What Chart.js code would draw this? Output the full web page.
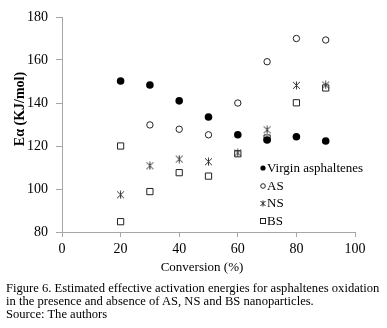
<!DOCTYPE html>
<html>
<head>
<meta charset="utf-8">
<script src="https://cdn.jsdelivr.net/npm/chart.js@4"></script>
<style>
  body { margin: 0; background: #fff; }
  #wrap { position: relative; width: 387px; height: 328px; }
  #caption {
    position: absolute; left: 6px; top: 282px;
    font: 12.6px "Liberation Serif", "Times New Roman", serif;
    line-height: 13px; color: #000; white-space: nowrap;
  }
</style>
</head>
<body>
<div id="wrap">
  <canvas id="myChart" width="387" height="282"></canvas>
  <div id="caption">Figure 6. Estimated effective activation energies for asphaltenes oxidation<br>in the presence and absence of AS, NS and BS nanoparticles.<br>Source: The authors</div>
</div>
<script>
const conversion = [20, 30, 40, 50, 60, 70, 80, 90];
const virgin = [150.2, 148.4, 141, 133.5, 125.2, 122.8, 124.3, 122.3];
const asValues = [120, 129.8, 127.8, 125.2, 140, 159.2, 170, 169.3];
const nsValues = [97.3, 110.8, 113.9, 112.7, 116.8, 127.5, 148.2, 148.4];
const bsValues = [84.8, 98.8, 107.6, 106, 116.4, 123.7, 140.1, 147];
const seriesNames = ['Virgin asphaltenes', 'AS', 'NS', 'BS'];
const xTicks = [0, 20, 40, 60, 80, 100];
const yTicks = [80, 100, 120, 140, 160, 180];

const serif = '"Liberation Serif", "Times New Roman", serif';
const axisGray = '#a6a6a6';

function starImage(size) {
  const c = document.createElement('canvas');
  c.width = size; c.height = size;
  const g = c.getContext('2d');
  g.strokeStyle = '#333';
  g.lineWidth = 1;
  const m = size / 2;
  g.beginPath();
  g.moveTo(m, 0.5); g.lineTo(m, size - 0.5);
  g.moveTo(1, 1); g.lineTo(size - 1, size - 1);
  g.moveTo(size - 1, 1); g.lineTo(1, size - 1);
  g.stroke();
  return c;
}
const starBig = starImage(9);

function pts(vals) {
  return vals.map((v, i) => ({ x: conversion[i], y: v }));
}

// titles and legend drawn by hand to sit where the original has them
const extras = {
  id: 'extras',
  afterDraw(chart) {
    const ctx = chart.ctx;
    ctx.save();
    ctx.fillStyle = '#000';
    ctx.textBaseline = 'middle';
    ctx.textAlign = 'center';
    ctx.font = '13px ' + serif;
    ctx.fillText('Conversion (%)', 202, 268);
    ctx.save();
    ctx.translate(20, 109);
    ctx.rotate(-Math.PI / 2);
    ctx.font = 'bold 14px ' + serif;
    ctx.fillText('Eα (KJ/mol)', 0, 0);
    ctx.restore();

    ctx.textAlign = 'left';
    ctx.font = '13px ' + serif;
    const rows = [168, 186, 203.5, 221];
    const mx = 263;
    rows.forEach((y, i) => {
      ctx.strokeStyle = '#222';
      ctx.fillStyle = '#000';
      ctx.lineWidth = 1;
      if (i === 0) {
        ctx.beginPath(); ctx.arc(mx, y, 2.6, 0, Math.PI * 2); ctx.fill();
      } else if (i === 1) {
        ctx.beginPath(); ctx.arc(mx, y, 2.3, 0, Math.PI * 2); ctx.stroke();
      } else if (i === 2) {
        ctx.beginPath();
        ctx.moveTo(mx, y - 3); ctx.lineTo(mx, y + 3);
        ctx.moveTo(mx - 2.5, y - 2.5); ctx.lineTo(mx + 2.5, y + 2.5);
        ctx.moveTo(mx + 2.5, y - 2.5); ctx.lineTo(mx - 2.5, y + 2.5);
        ctx.stroke();
      } else {
        ctx.strokeRect(mx - 2.5, y - 2.5, 5, 5);
      }
      ctx.fillStyle = '#000';
      ctx.fillText(seriesNames[i], 267, y + 0.5);
    });
    ctx.restore();
  }
};

document.addEventListener('DOMContentLoaded', function() {
  const ctx = document.getElementById('myChart');
  new Chart(ctx, {
    type: 'scatter',
    data: {
      datasets: [{
        label: seriesNames[0],
        data: pts(virgin),
        pointStyle: 'circle',
        pointRadius: 3.8,
        backgroundColor: '#000',
        borderColor: '#000',
        borderWidth: 0
      }, {
        label: seriesNames[1],
        data: pts(asValues),
        pointStyle: ['rect', 'circle', 'circle', 'circle', 'circle', 'circle', 'circle', 'circle'],
        pointRadius: [4.4, 3.2, 3.2, 3.2, 3.2, 3.2, 3.2, 3.2],
        backgroundColor: 'rgba(255,255,255,0)',
        borderColor: '#222',
        borderWidth: 1
      }, {
        label: seriesNames[2],
        data: pts(nsValues),
        pointStyle: starBig,
        pointRadius: 4
      }, {
        label: seriesNames[3],
        data: pts(bsValues),
        pointStyle: 'rect',
        pointRadius: 4.4,
        backgroundColor: 'rgba(255,255,255,0)',
        borderColor: '#222',
        borderWidth: 1
      }]
    },
    options: {
      responsive: false,
      animation: false,
      layout: { padding: { top: 17, right: 32, left: 0, bottom: 0 } },
      plugins: {
        legend: { display: false },
        tooltip: { enabled: false }
      },
      scales: {
        x: {
          type: 'linear',
          min: 0, max: 100,
          afterFit(s) { s.height = 50; },
          afterBuildTicks(s) { s.ticks = xTicks.map(v => ({ value: v })); },
          grid: { drawOnChartArea: false, drawTicks: true, tickLength: 5, color: axisGray },
          border: { color: axisGray },
          ticks: { color: '#000', padding: 4, font: { family: serif, size: 14 } }
        },
        y: {
          type: 'linear',
          min: 80, max: 180,
          afterFit(s) { s.width = 62; },
          afterBuildTicks(s) { s.ticks = yTicks.map(v => ({ value: v })); },
          grid: { drawOnChartArea: false, drawTicks: true, tickLength: 6, color: axisGray },
          border: { color: axisGray },
          ticks: { color: '#000', padding: 8, font: { family: serif, size: 14 } }
        }
      }
    },
    plugins: [extras]
  });
});
</script>
</body>
</html>
